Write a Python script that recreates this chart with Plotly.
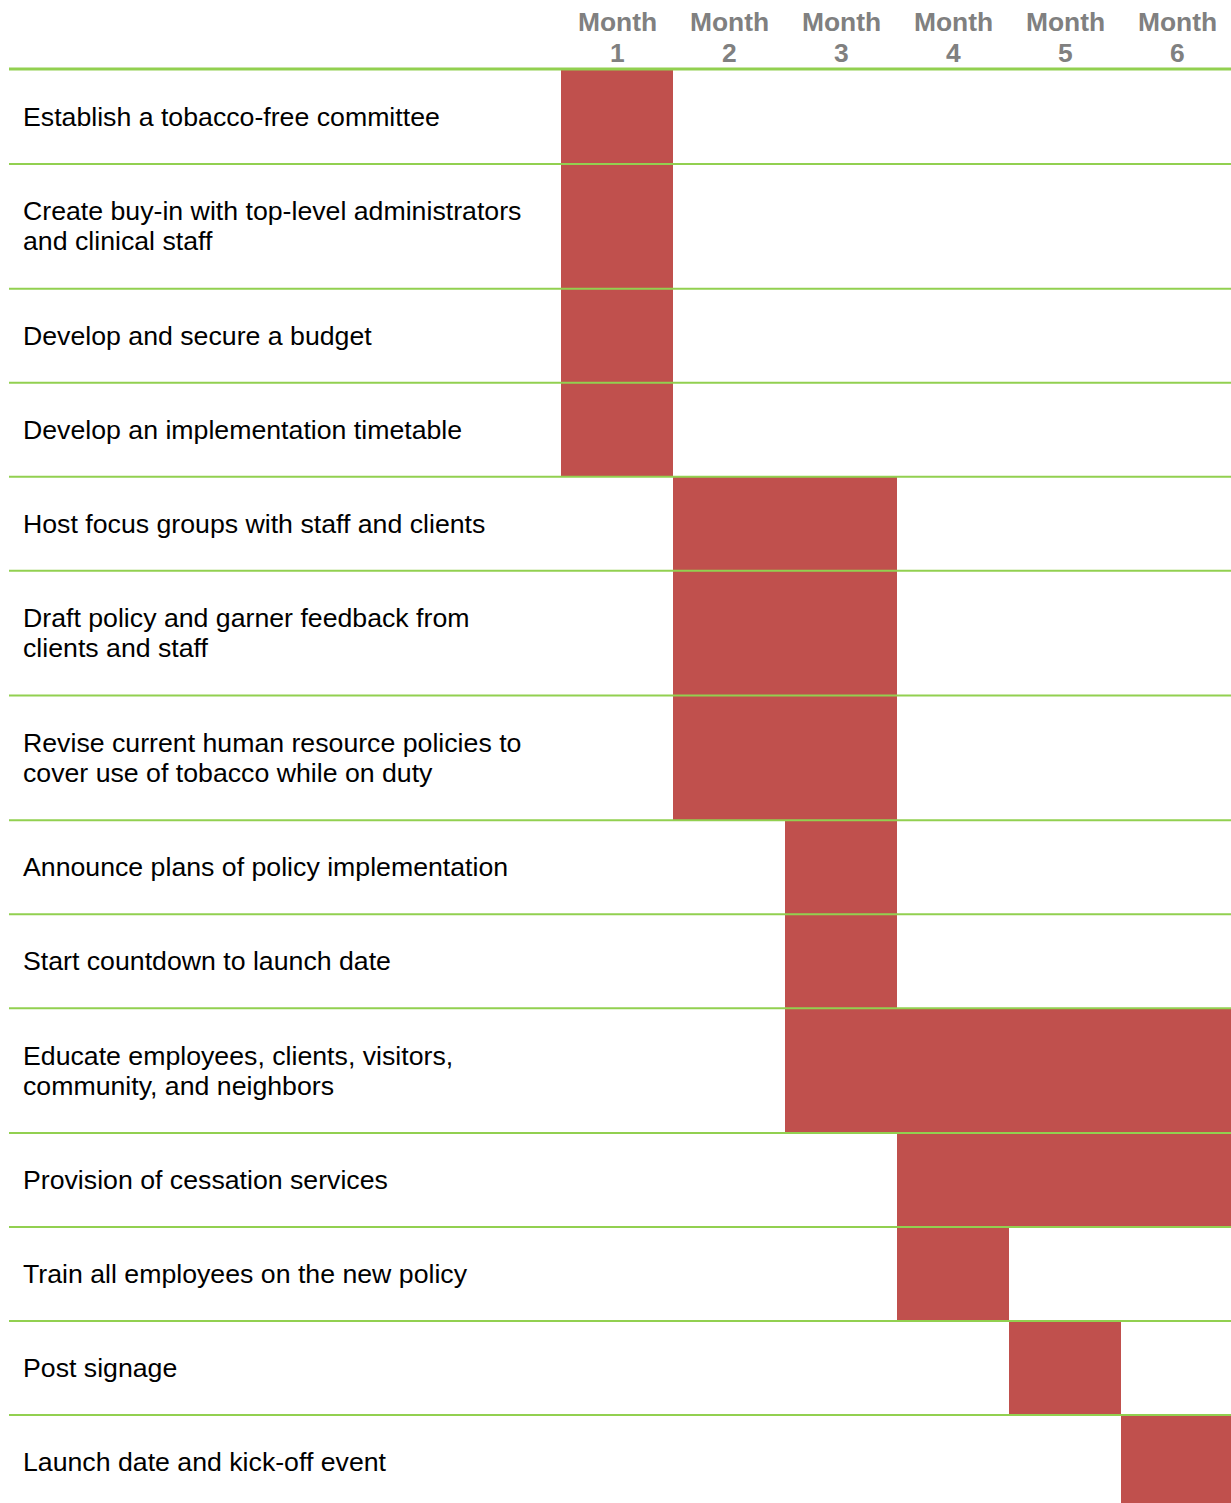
import plotly.graph_objects as go

# ---- data ----
tasks = [
    "Establish a tobacco-free committee",
    "Create buy-in with top-level administrators\nand clinical staff",
    "Develop and secure a budget",
    "Develop an implementation timetable",
    "Host focus groups with staff and clients",
    "Draft policy and garner feedback from\nclients and staff",
    "Revise current human resource policies to\ncover use of tobacco while on duty",
    "Announce plans of policy implementation",
    "Start countdown to launch date",
    "Educate employees, clients, visitors,\ncommunity, and neighbors",
    "Provision of cessation services",
    "Train all employees on the new policy",
    "Post signage",
    "Launch date and kick-off event",
]
start_month = [1, 1, 1, 1, 2, 2, 2, 3, 3, 3, 4, 4, 5, 6]
end_month = [1, 1, 1, 1, 3, 3, 3, 3, 3, 6, 6, 4, 5, 6]
month_labels = ["Month<br>1", "Month<br>2", "Month<br>3", "Month<br>4", "Month<br>5", "Month<br>6"]

# ---- layout constants (pixels) ----
W, H = 1231, 1503
HEADER_Y = 69
ROW0_Y = 70
SINGLE_H = 94
ROW_LINE_STEP = 30.75
TEXT_LINE_STEP = 30
COL0_PX = 561
COL_W = 112
LINE_X0 = 9
BAR_COLOR = "#C0504D"
GREEN = "#92D050"
FONT = "Liberation Sans, Arial, sans-serif"

# row geometry from line counts
tops, heights = [], []
y = ROW0_Y
for t in tasks:
    n = t.count("\n") + 1
    h = SINGLE_H + ROW_LINE_STEP * (n - 1)
    tops.append(y)
    heights.append(h)
    y += h
centers = [t + h / 2 for t, h in zip(tops, heights)]

fig = go.Figure()
fig.add_trace(go.Bar(
    orientation="h",
    y=centers,
    x=[e - s + 1 for s, e in zip(start_month, end_month)],
    base=[s - 1 for s in start_month],
    width=heights,
    marker=dict(color=BAR_COLOR, line=dict(width=0)),
    hoverinfo="skip",
    showlegend=False,
))

shapes = []
# header line
shapes.append(dict(type="line", xref="paper", yref="y", x0=LINE_X0 / W, x1=1,
                   y0=HEADER_Y, y1=HEADER_Y, line=dict(color=GREEN, width=3), layer="above"))
# row separators
for t, h in zip(tops, heights):
    yb = t + h
    if yb < H - 2:
        shapes.append(dict(type="line", xref="paper", yref="y", x0=LINE_X0 / W, x1=1,
                           y0=yb, y1=yb, line=dict(color=GREEN, width=2), layer="above"))

annotations = []
for c, t in zip(centers, tasks):
    lines = t.split("\n")
    n = len(lines)
    for i, ln in enumerate(lines):
        yy = c + (i - (n - 1) / 2) * TEXT_LINE_STEP
        annotations.append(dict(x=21 / W, xref="paper", y=yy, yref="y", text=ln,
                                showarrow=False, xanchor="left", yanchor="middle",
                                font=dict(family=FONT, size=26.7, color="#000000")))
for i, m in enumerate(month_labels):
    top, bot = m.split("<br>")
    for j, txt in enumerate([top, bot]):
        annotations.append(dict(x=i + 0.5, xref="x", y=22 + 31 * j, yref="y",
                                text="<b>%s</b>" % txt, showarrow=False,
                                xanchor="center", yanchor="middle",
                                font=dict(family=FONT, size=26.4, color="#808080")))

fig.update_layout(
    width=W, height=H, autosize=False,
    margin=dict(l=0, r=0, t=0, b=0, pad=0),
    paper_bgcolor="white", plot_bgcolor="white",
    xaxis=dict(range=[-COL0_PX / COL_W, (W - COL0_PX) / COL_W], visible=False, fixedrange=True),
    yaxis=dict(range=[H, 0], visible=False, fixedrange=True),
    shapes=shapes, annotations=annotations, bargap=0,
)

fig.write_html("out.html", config={"displayModeBar": False},
               post_script="document.body.style.margin='0';")
